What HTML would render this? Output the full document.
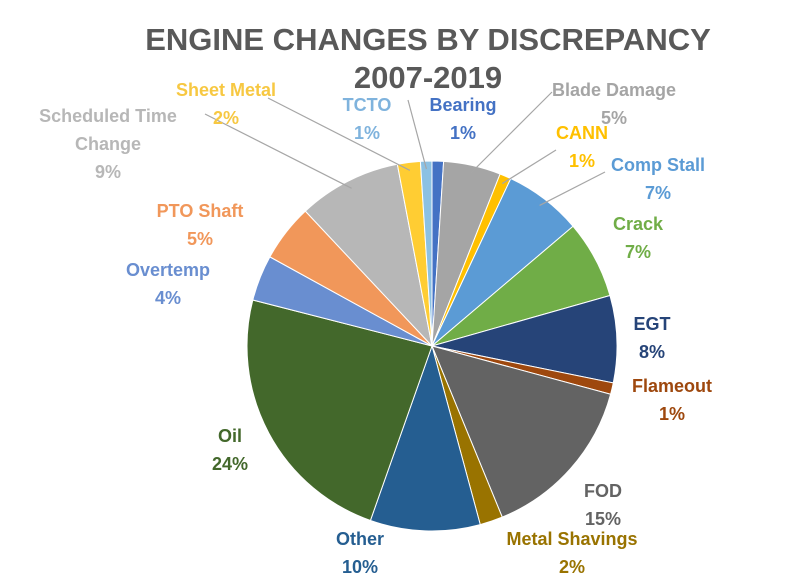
<!DOCTYPE html>
<html><head><meta charset="utf-8"><style>
body{margin:0;background:#fff;width:800px;height:579px;overflow:hidden;font-family:"Liberation Sans",sans-serif;}
svg text{font-family:"Liberation Sans",sans-serif;font-weight:bold;}
</style></head><body>
<svg width="800" height="579">
<text x="428" y="50" text-anchor="middle" font-size="31" fill="#595959">ENGINE CHANGES BY DISCREPANCY</text>
<text x="428" y="88" text-anchor="middle" font-size="31" fill="#595959">2007-2019</text>
<g id="slices"></g>
<g id="lines" stroke="#a6a6a6" stroke-width="1.2"></g>
<g id="labels" font-size="18"></g>
</svg>
<script>
const categories=["Bearing","Blade Damage","CANN","Comp Stall","Crack","EGT","Flameout","FOD","Metal Shavings","Other","Oil","Overtemp","PTO Shaft","Scheduled Time Change","Sheet Metal","TCTO"];
const values=[1,5,1,6.8,6.8,7.6,1,14.6,2,9.6,23.6,4,5,9,2,1];
const pctLabels=["1%","5%","1%","7%","7%","8%","1%","15%","2%","10%","24%","4%","5%","9%","2%","1%"];
const colors=["#4472c4","#a5a5a5","#ffc000","#5b9bd5","#70ad47","#264478","#9e480e","#636363","#997300","#255e91","#43682b","#698ed0","#f1975a","#b7b7b7","#ffcd33","#8cc1e3"];
const labelPos=[[463,111],[614,96],[582,139],[658,171],[638,230],[652,330],[672,392],[603,497],[572,545],[360,545],[230,442],[168,276],[200,217],[108,122],[226,96],[367,111]];
const labelColors=["#4472c4","#a5a5a5","#ffc000","#5b9bd5","#70ad47","#264478","#9e480e","#636363","#997300","#255e91","#43682b","#698ed0","#f1975a","#b7b7b7","#f7c842","#7fb3dd"];
const leaderStarts={1:[552,92],2:[556,150],3:[605,172],13:[205,114],14:[268,98],15:[408,100]};
const cx=432,cy=346,r=185,NS="http://www.w3.org/2000/svg";
const total=values.reduce((a,b)=>a+b,0);
const gS=document.getElementById('slices'),gL=document.getElementById('lines'),gT=document.getElementById('labels');
function pt(a,rr){return [cx+rr*Math.sin(a),cy-rr*Math.cos(a)];}
let acc=0;
values.forEach((v,i)=>{
 const a0=acc/total*2*Math.PI;acc+=v;const a1=acc/total*2*Math.PI;
 const p0=pt(a0,r),p1=pt(a1,r);
 const p=document.createElementNS(NS,'path');
 p.setAttribute('d',`M${cx},${cy}L${p0[0]},${p0[1]}A${r},${r} 0 ${a1-a0>Math.PI?1:0} 1 ${p1[0]},${p1[1]}Z`);
 p.setAttribute('fill',colors[i]);p.setAttribute('stroke','#fff');p.setAttribute('stroke-width','1');
 
 
 gS.appendChild(p);
 if(leaderStarts[i]){
  const m=pt((a0+a1)/2,r-8);const l=document.createElementNS(NS,'line');
  l.setAttribute('x1',leaderStarts[i][0]);l.setAttribute('y1',leaderStarts[i][1]);l.setAttribute('x2',m[0]);l.setAttribute('y2',m[1]);
  
  
  gL.appendChild(l);
 }
 const [lx,ly]=labelPos[i];
 const lines=categories[i]==="Scheduled Time Change"?["Scheduled Time","Change",pctLabels[i]]:[categories[i],pctLabels[i]];
 const t=document.createElementNS(NS,'text');
 t.setAttribute('text-anchor','middle');t.setAttribute('fill',labelColors[i]);
 
 
 lines.forEach((s,k)=>{const ts=document.createElementNS(NS,'tspan');ts.setAttribute('x',lx);ts.setAttribute('y',ly+k*28);ts.textContent=s;t.appendChild(ts);});
 gT.appendChild(t);
});
</script>
</body></html>
